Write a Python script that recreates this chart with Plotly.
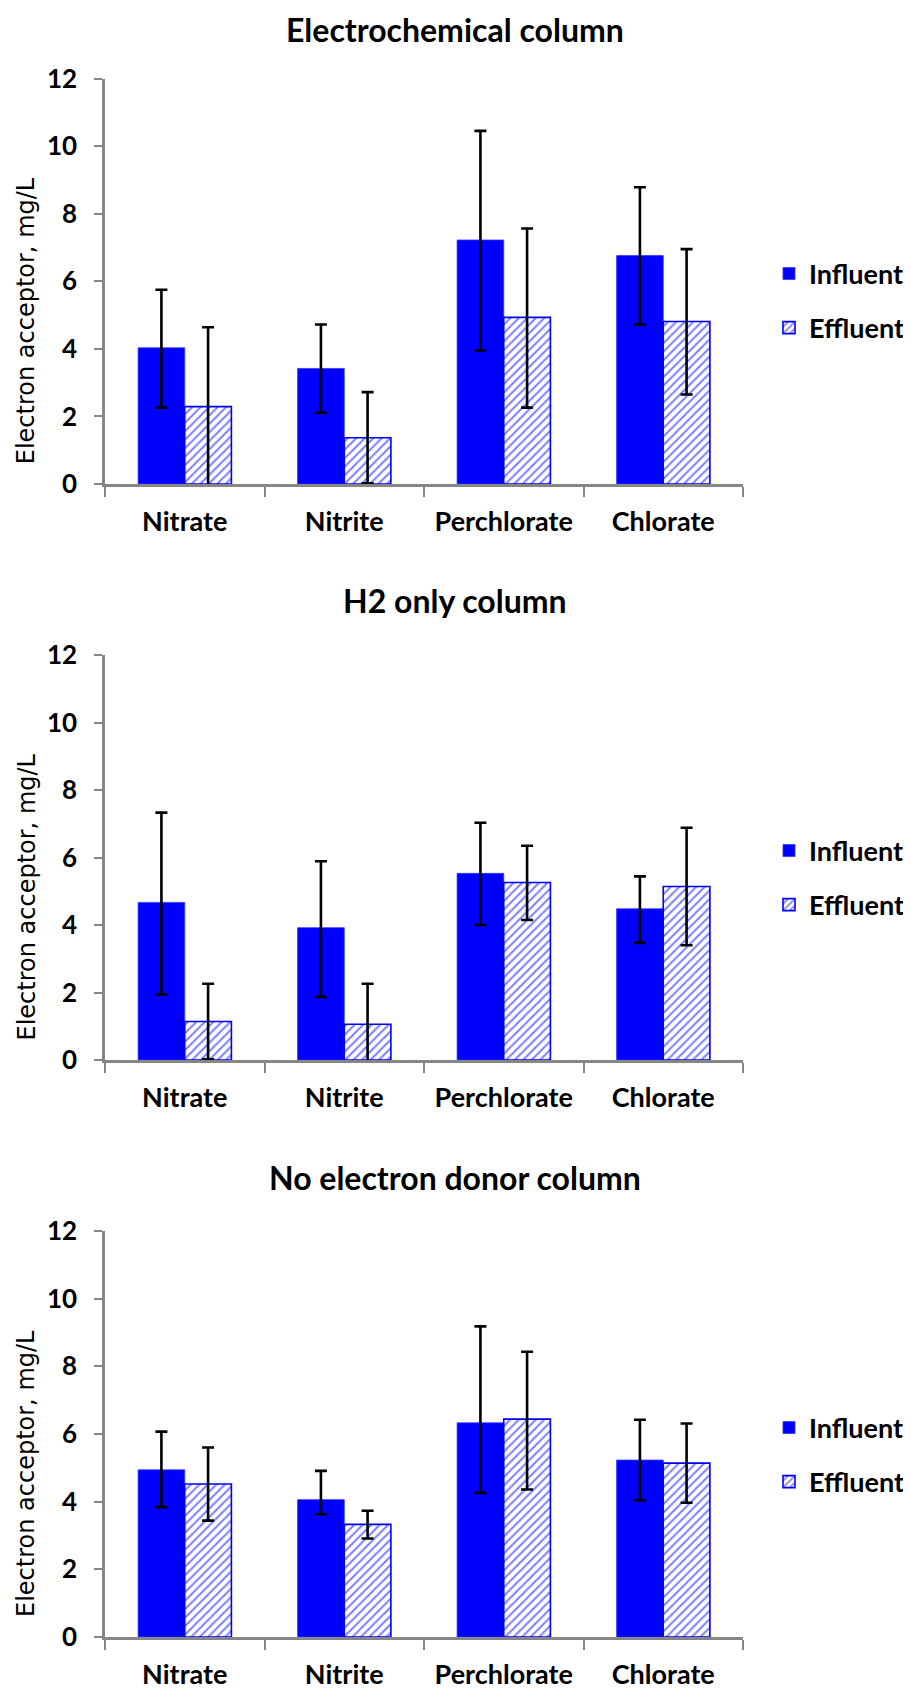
import plotly.graph_objects as go

categories = ["Nitrate", "Nitrite", "Perchlorate", "Chlorate"]
panel_titles = ["Electrochemical column", "H2 only column", "No electron donor column"]
series_names = ["Influent", "Effluent"]
y_title = "Electron acceptor, mg/L"
y_ticks = [0, 2, 4, 6, 8, 10, 12]

# Electrochemical column
ec_influent = [4.03, 3.42, 7.22, 6.76]
ec_influent_err_plus = [1.72, 1.30, 3.23, 2.02]
ec_influent_err_minus = [1.77, 1.31, 3.27, 2.04]
ec_effluent = [2.29, 1.37, 4.93, 4.81]
ec_effluent_err_plus = [2.35, 1.35, 2.63, 2.14]
ec_effluent_err_minus = [2.35, 1.35, 2.67, 2.16]

# H2 only column
h2_influent = [4.67, 3.92, 5.53, 4.48]
h2_influent_err_plus = [2.66, 1.97, 1.50, 0.96]
h2_influent_err_minus = [2.73, 2.05, 1.53, 1.01]
h2_effluent = [1.14, 1.06, 5.26, 5.14]
h2_effluent_err_plus = [1.12, 1.20, 1.09, 1.74]
h2_effluent_err_minus = [1.12, 1.20, 1.11, 1.74]

# No electron donor column
nd_influent = [4.94, 4.06, 6.33, 5.23]
nd_influent_err_plus = [1.13, 0.85, 2.85, 1.19]
nd_influent_err_minus = [1.10, 0.43, 2.07, 1.19]
nd_effluent = [4.52, 3.33, 6.44, 5.14]
nd_effluent_err_plus = [1.08, 0.40, 1.99, 1.17]
nd_effluent_err_minus = [1.08, 0.42, 2.08, 1.17]

panels = [
    (ec_influent, ec_influent_err_plus, ec_influent_err_minus,
     ec_effluent, ec_effluent_err_plus, ec_effluent_err_minus),
    (h2_influent, h2_influent_err_plus, h2_influent_err_minus,
     h2_effluent, h2_effluent_err_plus, h2_effluent_err_minus),
    (nd_influent, nd_influent_err_plus, nd_influent_err_minus,
     nd_effluent, nd_effluent_err_plus, nd_effluent_err_minus),
]

# the page body has an 8px default margin; size the figure to fit the window
OFF = 8
W, H = 911 - OFF, 1689 - OFF
BLUE = "#0000FF"
GRAY = "#868686"
CAL = "Lato, 'Open Sans', sans-serif"


def px_x(p):
    return (p - OFF) / W


def px_y(p):
    return 1 - (p - OFF) / H


# target geometry in window pixels
plot_px = [(78.5, 484), (655, 1060), (1231, 1637)]
title_px = [24, 600, 1177]
legend_px = [301, 878, 1455]
x0_px, x1_px = 105, 743

fig = go.Figure()

for i, (inf, infp, infm, eff, effp, effm) in enumerate(panels):
    n = "" if i == 0 else str(i + 1)
    lg = "legend" + n
    fig.add_trace(go.Bar(
        x=categories, y=inf, name=series_names[0],
        xaxis="x" + n, yaxis="y" + n, legend=lg, legendgroup="a" + n,
        marker=dict(color=BLUE, line=dict(color="#3333ff", width=0.8)),
        error_y=dict(type="data", array=infp, arrayminus=infm, symmetric=False,
                     color="black", thickness=2.6, width=6),
    ))
    fig.add_trace(go.Bar(
        x=categories, y=eff, name=series_names[1],
        xaxis="x" + n, yaxis="y" + n, legend=lg, legendgroup="b" + n,
        marker=dict(color="white", line=dict(color=BLUE, width=1.6),
                    pattern=dict(shape="/", fgcolor=BLUE, bgcolor="white",
                                 size=6, solidity=0.35)),
        error_y=dict(type="data", array=effp, arrayminus=effm, symmetric=False,
                     color="black", thickness=2.6, width=6),
    ))

layout = dict(
    width=W, height=H,
    margin=dict(l=0, r=0, t=0, b=0, autoexpand=False),
    paper_bgcolor="white", plot_bgcolor="white",
    barmode="group", bargap=0.415, bargroupgap=0,
    showlegend=True,
    annotations=[],
)

for i in range(3):
    n = "" if i == 0 else str(i + 1)
    top, bot = plot_px[i]
    layout["xaxis" + n] = dict(
        domain=[px_x(x0_px), px_x(x1_px)], anchor="y" + n, automargin=False,
        type="category", categoryorder="array", categoryarray=categories,
        showline=True, linecolor=GRAY, linewidth=2.5,
        ticks="outside", tickson="boundaries", ticklen=10, tickcolor=GRAY, tickwidth=2,
        showgrid=False, zeroline=False,
        tickfont=dict(family=CAL, size=27, color="black", weight="bold"),
        ticklabelstandoff=12,
    )
    layout["yaxis" + n] = dict(
        domain=[px_y(bot), px_y(top)], anchor="x" + n, automargin=False,
        range=[0, 12], tickvals=y_ticks,
        showline=True, linecolor=GRAY, linewidth=2.5,
        ticks="outside", ticklen=8, tickcolor=GRAY, tickwidth=2,
        showgrid=False, zeroline=False,
        tickfont=dict(family=CAL, size=26, color="black", weight="bold"),
        ticklabelstandoff=12,
    )
    layout["legend" + n] = dict(
        x=px_x(766), xanchor="left", y=px_y(legend_px[i]), yanchor="middle",
        font=dict(family=CAL, size=27, color="black", weight="bold"),
        bgcolor="rgba(0,0,0,0)", borderwidth=3, bordercolor="rgba(0,0,0,0)",
        traceorder="grouped", tracegroupgap=16,
    )
    if i == 0:
        title_pos = dict(y=px_y(OFF), yanchor="top")
    else:
        title_pos = dict(y=px_y(title_px[i]), yanchor="middle")
    layout["annotations"].append(dict(
        text=panel_titles[i], x=px_x(455), xref="paper", xanchor="center",
        yref="paper", showarrow=False,
        font=dict(family=CAL, size=32, color="black", weight="bold"),
        **title_pos,
    ))
    layout["annotations"].append(dict(
        text=y_title, textangle=-90,
        x=px_x(26), xref="paper", xanchor="center",
        y=px_y((top + bot) / 2 + 40), yref="paper", yanchor="middle",
        showarrow=False,
        font=dict(family="'DejaVu Sans', Verdana, sans-serif", size=24, color="black"),
    ))

fig.update_layout(**layout)
fig.write_html("out.html")
